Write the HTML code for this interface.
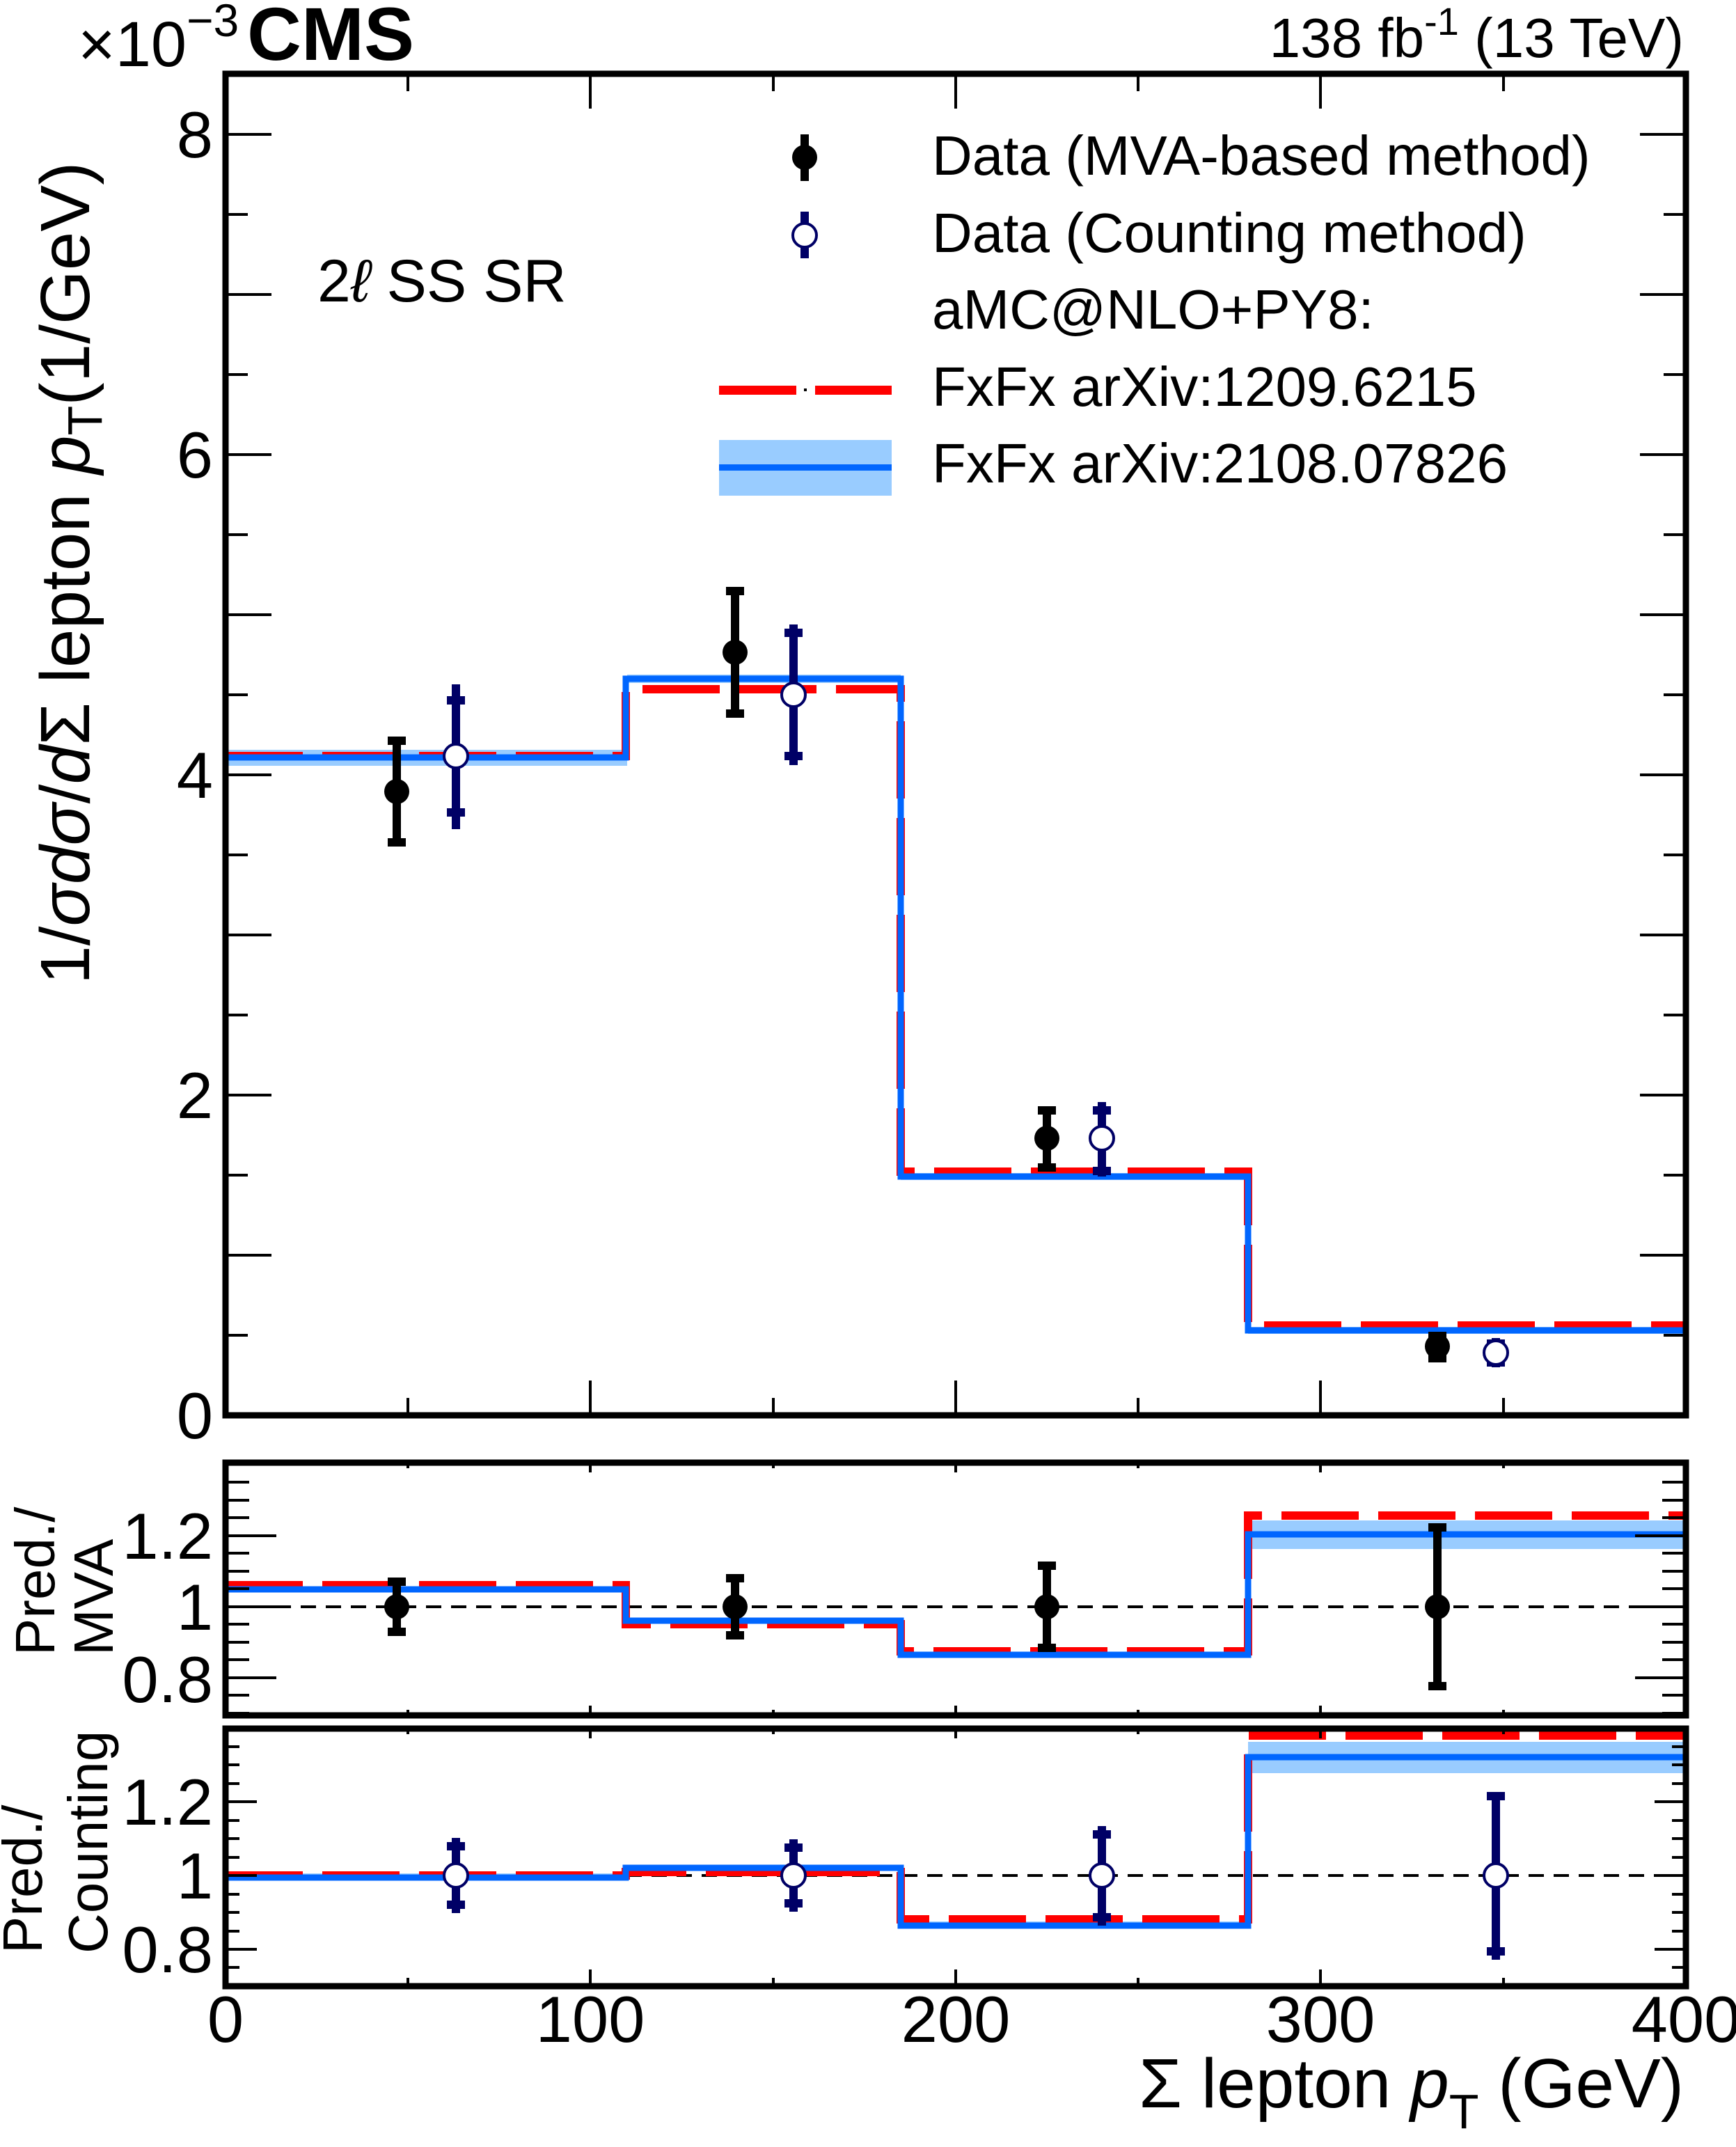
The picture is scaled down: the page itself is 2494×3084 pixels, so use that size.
<!DOCTYPE html>
<html><head><meta charset="utf-8"><style>
html,body{margin:0;padding:0;background:#fff;}
svg{display:block;}
text{font-family:"Liberation Sans",Arial,sans-serif;fill:#000;}
</style></head><body>
<svg width="2494" height="3084" viewBox="0 0 2494 3084" xmlns="http://www.w3.org/2000/svg">
<rect width="2494" height="3084" fill="#fff"/>

<!-- ===== MAIN PANEL ===== -->
<rect x="324" y="1077" width="577" height="23" fill="#99ccff"/>
<rect x="901" y="969" width="393" height="12" fill="#99ccff"/>
<rect x="1294" y="1685" width="499" height="10" fill="#99ccff"/>
<rect x="1793" y="1906" width="629" height="10" fill="#99ccff"/>
<path d="M324,1086 H899 V990 H1294 V1683 H1793 V1904 H2422" fill="none" stroke="#ff0000" stroke-width="12" stroke-dasharray="111 28"/>
<path d="M324,1088 H899 V975 H1294 V1690 H1793 V1911 H2422" fill="none" stroke="#0066ff" stroke-width="9"/>

<g stroke="#000" stroke-width="12" fill="#000">
<line x1="570" y1="1062" x2="570" y2="1212"/><rect x="557" y="1058" width="26" height="12" stroke="none"/><rect x="557" y="1204" width="26" height="12" stroke="none"/>
<line x1="1056" y1="843" x2="1056" y2="1031"/><rect x="1043" y="843" width="26" height="12" stroke="none"/><rect x="1043" y="1019" width="26" height="12" stroke="none"/>
<line x1="1504" y1="1589" x2="1504" y2="1683"/><rect x="1491" y="1589" width="26" height="12" stroke="none"/><rect x="1491" y="1671" width="26" height="12" stroke="none"/>
<line x1="2065" y1="1913" x2="2065" y2="1957"/><rect x="2052" y="1913" width="26" height="12" stroke="none"/><rect x="2052" y="1945" width="26" height="12" stroke="none"/>
</g>
<g fill="#000">
<circle cx="570" cy="1137" r="18"/><circle cx="1056" cy="937" r="18"/><circle cx="1504" cy="1635" r="18"/><circle cx="2065" cy="1934" r="18"/>
</g>
<g stroke="#000066" stroke-width="12">
<line x1="655" y1="983" x2="655" y2="1191"/>
<line x1="1140" y1="897" x2="1140" y2="1099"/>
<line x1="1583" y1="1583" x2="1583" y2="1690"/>
<line x1="2149" y1="1922" x2="2149" y2="1964"/>
</g>
<g fill="#000066">
<rect x="642" y="1000" width="26" height="12"/><rect x="642" y="1161" width="26" height="12"/>
<rect x="1127" y="903" width="26" height="12"/><rect x="1127" y="1080" width="26" height="12"/>
<rect x="1570" y="1589" width="26" height="12"/><rect x="1570" y="1676" width="26" height="12"/>
<rect x="2136" y="1924" width="26" height="12"/><rect x="2136" y="1951" width="26" height="12"/>
</g>
<g fill="#fff" stroke="#000066" stroke-width="4">
<circle cx="655" cy="1086" r="17"/><circle cx="1140" cy="998" r="17"/><circle cx="1583" cy="1635" r="17"/><circle cx="2149" cy="1943" r="17"/>
</g>

<g stroke="#000" stroke-width="4">
<path d="M324,2033h66 M324,1918h32 M324,1803h66 M324,1688h32 M324,1573h66 M324,1458h32 M324,1343h66 M324,1228h32 M324,1113h66 M324,998h32 M324,883h66 M324,768h32 M324,653h66 M324,538h32 M324,423h66 M324,308h32 M324,193h66"/>
<path d="M2422,2033h-66 M2422,1918h-32 M2422,1803h-66 M2422,1688h-32 M2422,1573h-66 M2422,1458h-32 M2422,1343h-66 M2422,1228h-32 M2422,1113h-66 M2422,998h-32 M2422,883h-66 M2422,768h-32 M2422,653h-66 M2422,538h-32 M2422,423h-66 M2422,308h-32 M2422,193h-66"/>
<path d="M586,2033v-25 M848,2033v-50 M1111,2033v-25 M1373,2033v-50 M1635,2033v-25 M1897,2033v-50 M2160,2033v-25"/>
<path d="M586,106v25 M848,106v50 M1111,106v25 M1373,106v50 M1635,106v25 M1897,106v50 M2160,106v25"/>
</g>
<rect x="324" y="106" width="2098" height="1927" fill="none" stroke="#000" stroke-width="9"/>

<g font-size="94" text-anchor="end">
<text x="306" y="2066">0</text>
<text x="306" y="1606">2</text>
<text x="306" y="1146">4</text>
<text x="306" y="686">6</text>
<text x="306" y="226">8</text>
</g>

<text transform="translate(128,1414) rotate(-90)" font-size="100">1/<tspan font-style="italic">σ</tspan><tspan font-style="italic">d</tspan><tspan font-style="italic">σ</tspan>/<tspan font-style="italic">d</tspan>Σ lepton <tspan font-style="italic">p</tspan><tspan font-size="70" dy="18">T</tspan><tspan dy="-18">(1/GeV)</tspan></text>
<text x="112" y="95" font-size="92">×10</text>
<text x="268" y="52" font-size="66">−3</text>
<text x="355" y="86" font-size="108" font-weight="bold">CMS</text>
<text x="2419" y="82" font-size="80" text-anchor="end">138 fb<tspan font-size="56" dy="-32">-1</tspan><tspan dy="32"> (13 TeV)</tspan></text>
<text x="456" y="433" font-size="86">2<tspan font-style="italic">ℓ</tspan> SS SR</text>

<g font-size="80">
<text x="1339" y="251">Data (MVA-based method)</text>
<text x="1339" y="362">Data (Counting method)</text>
<text x="1339" y="472">aMC@NLO+PY8:</text>
<text x="1339" y="583">FxFx arXiv:1209.6215</text>
<text x="1339" y="693">FxFx arXiv:2108.07826</text>
</g>
<rect x="1150" y="193" width="12" height="67" fill="#000"/>
<circle cx="1156" cy="226" r="18" fill="#000"/>
<rect x="1150" y="304" width="12" height="67" fill="#000066"/>
<circle cx="1156" cy="338" r="17" fill="#fff" stroke="#000066" stroke-width="4"/>
<rect x="1033" y="554" width="111" height="13" fill="#ff0000"/>
<rect x="1155" y="558" width="4" height="4" fill="#000"/>
<rect x="1171" y="554" width="110" height="13" fill="#ff0000"/>
<rect x="1033" y="632" width="248" height="80" fill="#99ccff"/>
<rect x="1033" y="667" width="248" height="9" fill="#0066ff"/>

<!-- ===== RATIO PANEL 1 (MVA) ===== -->
<line x1="324" y1="2308" x2="2422" y2="2308" stroke="#000" stroke-width="4" stroke-dasharray="22 14"/>
<rect x="1793" y="2184" width="629" height="41" fill="#99ccff"/>
<path d="M324,2277 H899 V2333 H1294 V2372 H1793 V2177 H2422" fill="none" stroke="#ff0000" stroke-width="12" stroke-dasharray="111 28"/>
<path d="M324,2283 H899 V2328 H1294 V2377 H1793 V2204 H2422" fill="none" stroke="#0066ff" stroke-width="9"/>
<g stroke="#000" stroke-width="12">
<line x1="570" y1="2270" x2="570" y2="2346"/>
<line x1="1056" y1="2265" x2="1056" y2="2351"/>
<line x1="1504" y1="2247" x2="1504" y2="2369"/>
<line x1="2065" y1="2188" x2="2065" y2="2428"/>
</g>
<g fill="#000">
<rect x="557" y="2266" width="26" height="12"/><rect x="557" y="2338" width="26" height="12"/>
<rect x="1043" y="2261" width="26" height="12"/><rect x="1043" y="2343" width="26" height="12"/>
<rect x="1491" y="2243" width="26" height="12"/><rect x="1491" y="2361" width="26" height="12"/>
<rect x="2052" y="2188" width="26" height="12"/><rect x="2052" y="2416" width="26" height="12"/>
<circle cx="570" cy="2308" r="18"/><circle cx="1056" cy="2308" r="18"/><circle cx="1504" cy="2308" r="18"/><circle cx="2065" cy="2308" r="18"/>
</g>
<g stroke="#000" stroke-width="4">
<path d="M324,2461h34 M324,2435h34 M324,2410h73 M324,2384h34 M324,2359h34 M324,2333h34 M324,2308h73 M324,2282h34 M324,2257h34 M324,2231h34 M324,2206h73 M324,2180h34 M324,2155h34 M324,2129h34"/>
<path d="M2422,2461h-34 M2422,2435h-34 M2422,2410h-73 M2422,2384h-34 M2422,2359h-34 M2422,2333h-34 M2422,2308h-73 M2422,2282h-34 M2422,2257h-34 M2422,2231h-34 M2422,2206h-73 M2422,2180h-34 M2422,2155h-34 M2422,2129h-34"/>
<path d="M586,2464v-8 M848,2464v-14 M1111,2464v-8 M1373,2464v-14 M1635,2464v-8 M1897,2464v-14 M2160,2464v-8"/>
<path d="M586,2101v8 M848,2101v14 M1111,2101v8 M1373,2101v14 M1635,2101v8 M1897,2101v14 M2160,2101v8"/>
</g>
<rect x="324" y="2101" width="2098" height="363" fill="none" stroke="#000" stroke-width="9"/>
<g font-size="94" text-anchor="end">
<text x="306" y="2239">1.2</text>
<text x="306" y="2341">1</text>
<text x="306" y="2445">0.8</text>
</g>
<g font-size="80">
<text transform="translate(78,2378) rotate(-90)">Pred./</text>
<text transform="translate(162,2378) rotate(-90)">MVA</text>
</g>

<!-- ===== RATIO PANEL 2 (Counting) ===== -->
<line x1="324" y1="2694" x2="2422" y2="2694" stroke="#000" stroke-width="4" stroke-dasharray="22 14"/>
<rect x="1793" y="2502" width="629" height="45" fill="#99ccff"/>
<rect x="324" y="2691" width="577" height="9" fill="#99ccff"/>
<rect x="1294" y="2760" width="499" height="10" fill="#99ccff"/>
<path d="M324,2694 H899 V2689 H1294 V2757 H1793 V2493 H2422" fill="none" stroke="#ff0000" stroke-width="12" stroke-dasharray="111 28"/>
<path d="M324,2697 H899 V2683 H1294 V2766 H1793 V2524 H2422" fill="none" stroke="#0066ff" stroke-width="9"/>
<g stroke="#000066" stroke-width="12">
<line x1="655" y1="2640" x2="655" y2="2748"/>
<line x1="1140" y1="2642" x2="1140" y2="2746"/>
<line x1="1583" y1="2623" x2="1583" y2="2766"/>
<line x1="2149" y1="2574" x2="2149" y2="2815"/>
</g>
<g fill="#000066">
<rect x="642" y="2646" width="26" height="12"/><rect x="642" y="2730" width="26" height="12"/>
<rect x="1127" y="2648" width="26" height="12"/><rect x="1127" y="2728" width="26" height="12"/>
<rect x="1570" y="2629" width="26" height="12"/><rect x="1570" y="2748" width="26" height="12"/>
<rect x="2136" y="2574" width="26" height="12"/><rect x="2136" y="2797" width="26" height="12"/>
</g>
<g fill="#fff" stroke="#000066" stroke-width="4">
<circle cx="655" cy="2694" r="17"/><circle cx="1140" cy="2694" r="17"/><circle cx="1583" cy="2694" r="17"/><circle cx="2149" cy="2694" r="17"/>
</g>
<g stroke="#000" stroke-width="4">
<path d="M324,2826h20 M324,2800h45 M324,2774h20 M324,2747h20 M324,2721h20 M324,2694h45 M324,2668h20 M324,2641h20 M324,2615h20 M324,2588h45 M324,2562h20 M324,2535h20 M324,2509h20"/>
<path d="M2422,2826h-20 M2422,2800h-45 M2422,2774h-20 M2422,2747h-20 M2422,2721h-20 M2422,2694h-45 M2422,2668h-20 M2422,2641h-20 M2422,2615h-20 M2422,2588h-45 M2422,2562h-20 M2422,2535h-20 M2422,2509h-20"/>
<path d="M586,2853v-12 M848,2853v-24 M1111,2853v-12 M1373,2853v-24 M1635,2853v-12 M1897,2853v-24 M2160,2853v-12"/>
<path d="M586,2483v8 M848,2483v14 M1111,2483v8 M1373,2483v14 M1635,2483v8 M1897,2483v14 M2160,2483v8"/>
</g>
<rect x="324" y="2483" width="2098" height="370" fill="none" stroke="#000" stroke-width="9"/>
<g font-size="94" text-anchor="end">
<text x="306" y="2621">1.2</text>
<text x="306" y="2727">1</text>
<text x="306" y="2833">0.8</text>
</g>
<g font-size="80">
<text transform="translate(60,2806) rotate(-90)">Pred./</text>
<text transform="translate(154,2806) rotate(-90)">Counting</text>
</g>

<g font-size="94" text-anchor="middle">
<text x="324" y="2933">0</text>
<text x="848" y="2933">100</text>
<text x="1373" y="2933">200</text>
<text x="1897" y="2933">300</text>
<text x="2422" y="2933">400</text>
</g>
<text x="2419" y="3027" font-size="100" text-anchor="end">Σ lepton <tspan font-style="italic">p</tspan><tspan font-size="70" dy="30">T</tspan><tspan dy="-30"> (GeV)</tspan></text>
</svg>
</body></html>
